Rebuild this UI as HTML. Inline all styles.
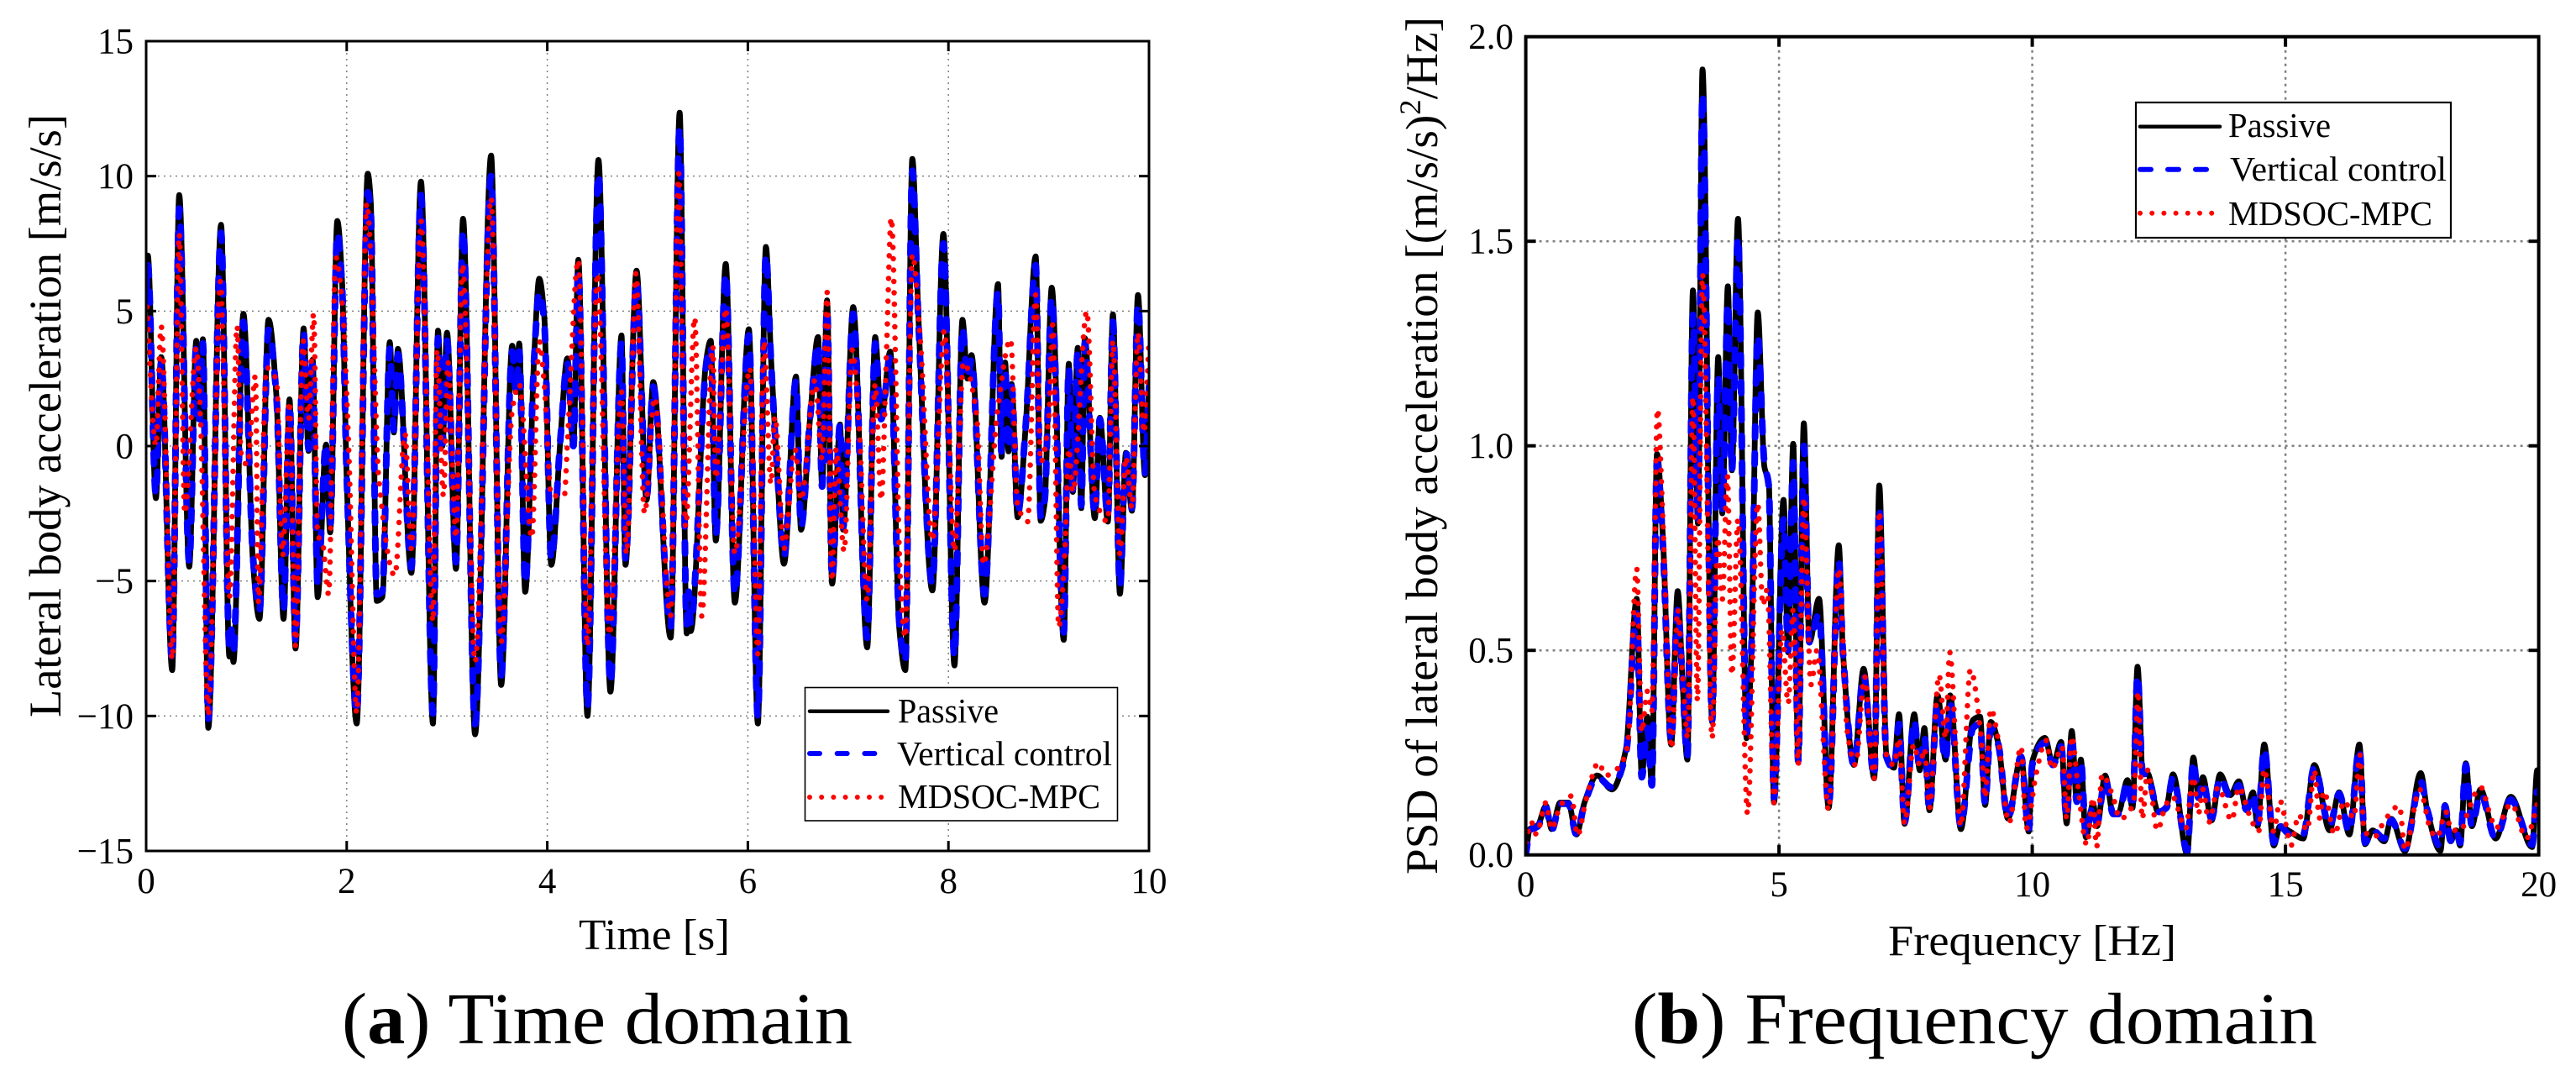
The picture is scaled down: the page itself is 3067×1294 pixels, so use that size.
<!DOCTYPE html>
<html lang="en">
<head>
<meta charset="utf-8">
<title>Lateral body acceleration: time and frequency domain</title>
<style>
html,body{margin:0;padding:0;background:#fff;}
svg{display:block;}
text{font-family:"Liberation Serif","Times New Roman",serif;fill:#000;}
</style>
</head>
<body>
<svg id="fig" xmlns="http://www.w3.org/2000/svg" width="3067" height="1294" viewBox="0 0 3067 1294">
  <defs>
    <clipPath id="clipA"><rect x="174" y="49" width="1194" height="964"/></clipPath>
    <clipPath id="clipB"><rect x="1816.6" y="43.7" width="1206" height="974"/></clipPath>
  </defs>
  <rect x="0" y="0" width="3067" height="1294" fill="#fff"/>

  <g id="chartA">
    <g id="gridA"></g>
    <g id="seriesA" clip-path="url(#clipA)"></g>
    <rect x="174" y="49" width="1194" height="964" fill="none" stroke="#000" stroke-width="3"/>
    <g id="ticksA"></g>
    <text transform="translate(72,854) rotate(-90)" font-size="54" textLength="718" lengthAdjust="spacingAndGlyphs">Lateral body acceleration [m/s/s]</text>
    <text x="689" y="1130" font-size="52" textLength="180" lengthAdjust="spacingAndGlyphs">Time [s]</text>
    <g>
      <rect x="958.5" y="818.5" width="372" height="158.5" fill="#fff" stroke="#000" stroke-width="1.6"/>
      <line x1="964" y1="846.7" x2="1057" y2="846.7" stroke="#000" stroke-width="4.5" stroke-linecap="round"/>
      <line x1="964" y1="897" x2="1044" y2="897" stroke="#0000ff" stroke-width="6" stroke-linecap="round" stroke-dasharray="12 20.7"/>
      <line x1="964" y1="949" x2="1051" y2="949" stroke="#ff0000" stroke-width="6" stroke-linecap="round" stroke-dasharray="0 14.2"/>
      <text x="1069" y="860" font-size="41" textLength="120" lengthAdjust="spacingAndGlyphs">Passive</text>
      <text x="1068" y="911" font-size="41" textLength="256" lengthAdjust="spacingAndGlyphs">Vertical control</text>
      <text x="1069" y="962" font-size="41" textLength="241" lengthAdjust="spacingAndGlyphs">MDSOC-MPC</text>
    </g>
  </g>

  <g id="chartB">
    <g id="gridB"></g>
    <g id="seriesB" clip-path="url(#clipB)"></g>
    <rect x="1816.6" y="43.7" width="1206" height="974" fill="none" stroke="#000" stroke-width="4"/>
    <g id="ticksB"></g>
    <text transform="translate(1711,1041) rotate(-90)" font-size="54" textLength="1021" lengthAdjust="spacingAndGlyphs">PSD of lateral body acceleration [(m/s/s)<tspan font-size="36" dy="-20">2</tspan><tspan dy="20">/Hz]</tspan></text>
    <text x="2248" y="1137" font-size="52" textLength="343" lengthAdjust="spacingAndGlyphs">Frequency [Hz]</text>
    <g>
      <rect x="2543" y="122" width="375" height="161" fill="#fff" stroke="#000" stroke-width="2.2"/>
      <line x1="2548" y1="150.7" x2="2643" y2="150.7" stroke="#000" stroke-width="4.5" stroke-linecap="round"/>
      <line x1="2548" y1="201.7" x2="2629" y2="201.7" stroke="#0000ff" stroke-width="6" stroke-linecap="round" stroke-dasharray="13 20"/>
      <line x1="2548" y1="253.7" x2="2635" y2="253.7" stroke="#ff0000" stroke-width="6" stroke-linecap="round" stroke-dasharray="0 14.2"/>
      <text x="2653" y="163" font-size="41" textLength="122" lengthAdjust="spacingAndGlyphs">Passive</text>
      <text x="2655" y="215" font-size="41" textLength="258" lengthAdjust="spacingAndGlyphs">Vertical control</text>
      <text x="2653" y="268" font-size="41" textLength="243" lengthAdjust="spacingAndGlyphs">MDSOC-MPC</text>
    </g>
  </g>

  <text x="407" y="1242" font-size="87" textLength="608" lengthAdjust="spacingAndGlyphs">(<tspan font-weight="bold">a</tspan>) Time domain</text>
  <text x="1943" y="1242" font-size="87" textLength="816" lengthAdjust="spacingAndGlyphs">(<tspan font-weight="bold">b</tspan>) Frequency domain</text>
</svg>

<script>
// ---- Chart (a): time domain ----
const timeTicksX = [0, 2, 4, 6, 8, 10];
const timeTicksY = [-15, -10, -5, 0, 5, 10, 15];
const timeTickLabelsY = ['\u221215', '\u221210', '\u22125', '0', '5', '10', '15'];

const timeSeconds = [
  0,.017,.097,.15,.26,.33,.43,.50,.53,.565,
  .62,.747,.83,.85,.87,.97,1.065,1.13,1.22,1.30,
  1.37,1.43,1.49,1.57,1.62,1.66,1.71,1.795,1.835,1.906,1.955,2.0,
  2.10,2.21,2.24,2.30,2.355,2.43,2.47,2.51,2.645,2.74,
  2.86,2.91,2.955,3.0,3.09,3.16,3.28,3.44,3.54,3.65,
  3.69,3.72,3.78,3.87,3.92,3.97,4.04,4.13,4.2,4.26,4.31,
  4.40,4.51,4.63,4.74,4.78,4.89,4.99,5.056,5.23,5.32,
  5.39,5.41,5.43,5.585,5.63,5.68,5.78,5.87,6.01,6.10,
  6.18,6.23,6.29,6.36,6.48,6.53,6.62,6.70,6.74,6.79,6.84,6.92,
  6.95,7.05,7.19,7.27,7.33,7.42,7.51,7.57,7.64,7.70,
  7.84,7.95,8.06,8.14,8.19,8.23,8.36,8.495,8.53,8.565,8.60,8.63,
  8.69,8.77,8.87,8.92,8.96,9.03,9.15,9.20,9.24,9.29,
  9.325,9.36,9.46,9.51,9.59,9.64,9.71,9.77,9.83,9.89,
  9.96,10
];
const passiveTimeValues = [
  6.0,7.06,-1.93,3.3,-8.3,9.3,-4.47,3.9,1.0,3.96,
  -10.44,8.2,-7.8,-7.0,-8.0,4.9,-4.3,-6.4,4.68,1.8,
  -6.4,1.73,-7.5,4.36,-.18,3.2,-5.6,.06,-3.2,8.34,6.0,-1.2,
  -10.28,10.09,9,-5.74,-5.6,3.85,.5,3.6,-4.7,9.8,
  -10.28,4.28,0,4.2,-4.55,8.42,-10.68,10.76,-8.85,3.72,
  2,3.8,-5.4,3.4,6.2,4.8,-4.4,.2,3.25,0,6.9,
  -10,10.6,-9.1,4.1,-4.4,6.5,-2,2.37,-7.1,12.35,
  -6.94,-5.5,-6.86,3.17,3.9,-3.5,6.75,-5.8,4.33,-10.28,
  7.38,3.3,-.8,-4.36,2.58,-3.1,1,4.04,-1.5,5.4,-5.1,.8,
  -3.1,5.15,-7.46,4.04,1,3.5,-6.75,-8.3,10.64,4.84,
  -5.35,7.86,-8.13,4.68,2.5,3.37,-5.8,6.0,-.4,3.1,-.2,2.3,
  -2.64,.7,7.03,-2.77,-2.1,5.87,-7.18,3.05,-1.7,3.64,
  -2.3,4,-2.67,1.05,-2.8,4.88,-5.47,-.25,-2.4,5.6,
  -1.08,2.3
];
const verticalTimeValues = [
  5.7,6.7,-1.8,3.1,-7.9,8.8,-4.3,3.7,1.0,3.8,
  -10.1,7.9,-7.4,-6.8,-7.6,4.6,-4.1,-6.1,4.3,1.8,
  -6.1,1.6,-7.2,4.2,-.1,3.0,-5.1,.1,-3.0,7.9,5.8,-1.1,
  -9.9,9.4,8.6,-5.5,-5.4,3.6,.6,3.4,-4.5,9.3,
  -9.9,4.0,.1,3.9,-4.3,8.0,-10.3,10.0,-8.5,3.5,
  2,3.5,-5.1,3.3,5.7,4.6,-4.2,.2,3.1,0,6.5,
  -9.7,10.1,-8.8,3.8,-4.2,6.1,-1.9,2.2,-6.7,11.8,
  -6.6,-5.4,-6.6,3.0,3.7,-3.3,6.4,-5.5,4.1,-10.0,
  7.1,3.2,-.7,-4.1,2.4,-3,1,3.8,-1.5,5.1,-4.9,.8,
  -3,4.9,-7.1,3.8,1,3.3,-6.5,-8.0,10.2,4.7,
  -5.1,7.5,-7.8,4.4,2.5,3.2,-5.5,5.7,-.3,2.9,-.1,2.2,
  -2.5,.7,6.7,-2.6,-2.0,5.5,-6.9,2.9,-1.6,3.5,
  -2.2,3.8,-2.5,1.0,-2.6,4.6,-5.2,-.2,-2.3,5.3,
  -1.0,2.2
];
const mdsocTimeSeconds = [
  .008,.097,.15,.26,.33,.385,.50,.54,.62,.74,
  .83,.907,.946,1.01,1.09,1.12,1.2,1.3,1.36,1.43,
  1.49,1.565,1.62,1.67,1.71,1.76,1.82,1.89,1.955,2.02,
  2.1,2.2,2.24,2.32,2.48,2.58,2.645,2.74,2.86,2.9,
  2.965,3.01,3.09,3.155,3.28,3.44,3.54,3.65,3.72,3.845,
  3.92,3.97,4.04,4.17,4.2,4.31,4.40,4.5,4.62,4.74,
  4.79,4.885,4.97,5.07,5.23,5.31,5.38,5.47,5.54,5.65,
  5.68,5.78,5.87,6.02,6.1,6.16,6.23,6.27,6.36,6.47,
  6.53,6.67,6.74,6.79,6.84,6.88,6.96,7.04,7.11,7.19,
  7.27,7.33,7.38,7.43,7.52,7.57,7.64,7.72,7.84,7.96,
  8.06,8.15,8.28,8.35,8.49,8.62,8.69,8.79,8.87,8.92,
  9.0,9.04,9.10,9.16,9.2,9.24,9.38,9.46,9.59,9.64,
  9.71,9.77,9.83,9.89,9.95,10
];
const mdsocTimeValues = [
  5.15,0,4.44,-7.9,7.86,-2.5,3.64,1.2,-10,6.1,
  -5.6,4.44,-.25,-.7,2.6,-5.8,2.9,2.45,-4.07,1.65,
  -7.4,3.9,1,4.9,-3.3,-3.6,-5.5,7,5.3,-.1,
  -9.9,9,7,-1.2,-4.8,.46,-3.8,8.34,-6.5,3.56,
  -1.85,3.1,-3.4,6.75,-8,9.2,-7.25,1.3,2.3,-3.4,
  3.9,2.3,-1.85,-1.85,.06,6.9,-7.4,6.4,-7,2,
  -4,6.4,-2.5,1.8,-6.3,10.1,-3,4.76,-6.3,3.7,
  -1.2,5.1,-4,2.9,-7.7,3.9,-1.4,1.1,-3.8,-.1,
  -2,2.45,-.5,5.7,-5,-.1,-3.9,3.56,.7,-5.7,
  2.3,-2,3.2,8.46,-4.9,-7.1,7.1,3.9,-3.5,4.28,
  -3.9,3.1,1.2,-4.4,1.3,3.96,-2.2,-2.8,5.6,-.6,
  1,4.5,-6.7,-4,-.1,-1.7,5,-1.85,-2.8,3.9,
  -4,-.4,-2.3,4.2,.5,3.9
];

// ---- Chart (b): frequency domain ----
const freqTicksX = [0, 5, 10, 15, 20];
const freqTicksY = [0, 0.5, 1.0, 1.5, 2.0];
const freqTickLabelsY = ['0.0', '0.5', '1.0', '1.5', '2.0'];

const freqHz = [
  0,.08,.24,.4,.51,.68,.84,1.0,1.16,1.41,
  1.70,1.98,2.19,2.29,2.4,2.49,2.59,2.71,2.87,3.0,
  3.09,3.19,3.3,3.4,3.49,3.68,3.8,3.88,3.99,4.07,
  4.19,4.36,4.45,4.58,4.71,4.8,4.9,5.09,5.18,5.28,
  5.38,5.49,5.6,5.79,5.98,6.18,6.26,6.48,6.67,6.88,
  6.98,7.12,7.27,7.37,7.48,7.67,7.78,7.87,7.97,8.13,
  8.29,8.38,8.59,8.83,8.97,9.07,9.18,9.33,9.52,9.78,
  9.93,10.0,10.25,10.41,10.57,10.68,10.78,10.88,10.96,11.06,
  11.2,11.28,11.44,11.6,11.71,11.88,11.98,12.08,12.18,12.28,
  12.49,12.65,12.78,13.06,13.18,13.28,13.37,13.54,13.71,13.91,
  14.08,14.23,14.36,14.45,14.58,14.77,14.89,15.09,15.35,15.57,
  15.87,16.06,16.26,16.46,16.57,16.72,16.95,17.09,17.36,17.67,
  17.8,18.06,18.15,18.26,18.37,18.45,18.56,18.68,18.85,19.15,
  19.45,19.87,19.97,20
];
const passivePsdValues = [
  0,.063,.073,.12,.063,.128,.128,.05,.128,.194,
  .16,.26,.626,.194,.338,.174,.98,.77,.27,.645,
  .44,.233,1.38,.81,1.92,.325,1.217,.835,1.39,.94,
  1.555,.285,.48,1.326,.95,.91,.128,.868,.495,1.005,
  .226,1.055,.52,.626,.115,.757,.5,.22,.455,.187,
  .903,.246,.213,.344,.076,.344,.207,.31,.109,.39,
  .233,.39,.063,.33,.338,.122,.325,.272,.089,.24,
  .057,.228,.286,.22,.276,.077,.303,.13,.233,.043,
  .125,.07,.194,.10,.105,.183,.115,.46,.207,.2,
  .105,.118,.197,.002,.238,.146,.19,.084,.197,.146,
  .18,.11,.153,.07,.27,.023,.07,.057,.04,.22,
  .06,.153,.05,.27,.026,.06,.033,.088,.009,.2,
  .108,.01,.122,.033,.06,.023,.224,.07,.16,.04,
  .142,.019,.207,.2
];
const verticalPsdValues = [
  0,.06,.07,.115,.06,.125,.125,.05,.125,.19,
  .165,.25,.59,.19,.31,.17,.96,.75,.28,.6,
  .44,.24,1.32,.82,1.86,.33,1.17,.84,1.35,.94,
  1.51,.30,.48,1.27,.96,.90,.14,.82,.5,.96,
  .23,1.0,.52,.59,.12,.72,.5,.22,.44,.19,
  .85,.24,.21,.32,.08,.33,.21,.29,.11,.37,
  .23,.37,.07,.31,.32,.125,.31,.27,.09,.24,
  .06,.22,.275,.22,.265,.09,.29,.13,.23,.05,
  .12,.08,.185,.10,.10,.18,.115,.44,.2,.195,
  .105,.115,.19,.01,.23,.14,.18,.09,.19,.14,
  .17,.11,.15,.075,.26,.03,.07,.05,.05,.215,
  .07,.15,.055,.26,.03,.06,.04,.085,.015,.18,
  .11,.02,.12,.035,.06,.03,.22,.07,.15,.04,
  .135,.025,.155,.15
];
const mdsocFreqHz = [
  0,.11,.21,.4,.51,.68,.9,1.02,1.19,1.44,
  1.57,1.83,2.01,2.19,2.29,2.4,2.49,2.6,2.71,2.88,
  3,3.09,3.2,3.3,3.39,3.49,3.68,3.79,3.88,3.98,
  4.07,4.19,4.38,4.58,4.68,4.77,4.9,5.06,5.18,5.28,
  5.38,5.49,5.63,5.75,5.98,6.18,6.35,6.51,6.69,6.88,
  6.98,7.12,7.27,7.37,7.48,7.66,7.78,7.87,7.97,8.16,
  8.29,8.37,8.59,8.78,8.98,9.07,9.18,9.33,9.54,9.78,
  9.88,10.08,10.27,10.39,10.59,10.68,10.78,10.9,11.08,11.2,
  11.27,11.38,11.6,11.73,12,12.09,12.17,12.28,12.47,12.63,
  12.77,13.03,13.18,13.28,13.37,13.49,13.67,13.94,14.08,14.28,
  14.47,14.58,14.77,14.89,15.06,15.11,15.26,15.43,15.57,15.67,
  15.76,15.97,16.16,16.35,16.47,16.55,16.75,16.94,17.16,17.25,
  17.36,17.65,17.87,17.99,18.17,18.27,18.48,18.56,18.85,19.05,
  19.15,19.46,19.76,19.9,20
];
const mdsocPsdValues = [
  .03,.08,.05,.128,.063,.12,.144,.047,.135,.226,
  .194,.213,.266,.70,.3,.40,.35,1.09,.81,.26,
  .6,.45,.285,1.12,.377,1.42,.285,.776,.625,.927,
  .44,.82,.1,.86,.61,.65,.128,.55,.37,.6,
  .22,.874,.416,.5,.109,.70,.3,.22,.436,.187,
  .84,.246,.22,.285,.076,.27,.22,.26,.115,.44,
  .285,.495,.07,.453,.3,.14,.357,.28,.078,.265,
  .064,.2,.28,.21,.265,.088,.29,.17,.024,.14,
  .019,.197,.14,.088,.125,.40,.088,.207,.06,.12,
  .142,.064,.19,.1,.16,.08,.166,.084,.166,.1,
  .057,.21,.057,.132,.043,.023,.098,.06,.207,.09,
  .156,.05,.132,.09,.245,.06,.043,.08,.115,.12,
  .012,.16,.06,.043,.105,.06,.06,.09,.166,.094,
  .065,.125,.04,.09,.14
];

const SVG_NS = 'http://www.w3.org/2000/svg';

// axis functions
function timeX(t) { return 174 + (t / 10) * 1194; }
function timeY(v) { return 531 - (v / 15) * 482; }
function freqX(f) { return 1816.6 + (f / 20) * 1206; }
function freqY(p) { return 1017.7 - (p / 2) * 974; }

// monotone cubic path through the data samples
function curvePath(xs, ys, fx, fy) {
  const px = xs.map(fx);
  const py = ys.map(fy);
  const n = px.length;
  const m = new Array(n).fill(0);
  const s = [];
  for (let i = 0; i < n - 1; i++) s.push((py[i + 1] - py[i]) / (px[i + 1] - px[i]));
  m[0] = s[0];
  m[n - 1] = s[n - 2];
  for (let i = 1; i < n - 1; i++) {
    m[i] = s[i - 1] * s[i] <= 0 ? 0 : 2 * s[i - 1] * s[i] / (s[i - 1] + s[i]);
  }
  let d = 'M' + px[0].toFixed(1) + ' ' + py[0].toFixed(1);
  for (let i = 0; i < n - 1; i++) {
    const h = (px[i + 1] - px[i]) / 3;
    d += 'C' + (px[i] + h).toFixed(1) + ' ' + (py[i] + m[i] * h).toFixed(1) + ' ' +
         (px[i + 1] - h).toFixed(1) + ' ' + (py[i + 1] - m[i + 1] * h).toFixed(1) + ' ' +
         px[i + 1].toFixed(1) + ' ' + py[i + 1].toFixed(1);
  }
  return d;
}

function styleLine(el, color, width, dash) {
  el.setAttribute('fill', 'none');
  el.setAttribute('stroke', color);
  el.setAttribute('stroke-width', width);
  el.setAttribute('stroke-linejoin', 'round');
  if (dash) {
    el.setAttribute('stroke-dasharray', dash);
    el.setAttribute('stroke-linecap', 'round');
  }
}

// ---- series, chart (a) ----
const seriesA = document.getElementById('seriesA');

const passiveTimeLine = document.createElementNS(SVG_NS, 'path');


passiveTimeLine.setAttribute('d', curvePath(timeSeconds, passiveTimeValues, timeX, timeY));
styleLine(passiveTimeLine, '#000', 6.8, null);
seriesA.appendChild(passiveTimeLine);

const verticalTimeLine = document.createElementNS(SVG_NS, 'path');


verticalTimeLine.setAttribute('d', curvePath(timeSeconds, verticalTimeValues, timeX, timeY));
styleLine(verticalTimeLine, '#0000ff', 8, '13 19');
seriesA.appendChild(verticalTimeLine);

const mdsocTimeLine = document.createElementNS(SVG_NS, 'path');


mdsocTimeLine.setAttribute('d', curvePath(mdsocTimeSeconds, mdsocTimeValues, timeX, timeY));
styleLine(mdsocTimeLine, '#ff0000', 6.5, '0 13.5');
seriesA.appendChild(mdsocTimeLine);

// ---- series, chart (b) ----
const seriesB = document.getElementById('seriesB');

const passivePsdLine = document.createElementNS(SVG_NS, 'path');


passivePsdLine.setAttribute('d', curvePath(freqHz, passivePsdValues, freqX, freqY));
styleLine(passivePsdLine, '#000', 6.8, null);
seriesB.appendChild(passivePsdLine);

const verticalPsdLine = document.createElementNS(SVG_NS, 'path');


verticalPsdLine.setAttribute('d', curvePath(freqHz, verticalPsdValues, freqX, freqY));
styleLine(verticalPsdLine, '#0000ff', 8, '13 19');
seriesB.appendChild(verticalPsdLine);

const mdsocPsdLine = document.createElementNS(SVG_NS, 'path');


mdsocPsdLine.setAttribute('d', curvePath(mdsocFreqHz, mdsocPsdValues, freqX, freqY));
styleLine(mdsocPsdLine, '#ff0000', 6.5, '0 13.5');
seriesB.appendChild(mdsocPsdLine);

// ---- grid + ticks + tick labels ----
function drawAxes(gridId, ticksId, xTicks, yTicks, yLabels, fx, fy, box, style) {
  const grid = document.getElementById(gridId);
  const ticks = document.getElementById(ticksId);
  xTicks.forEach(function (v) {
    const x = fx(v);
    if (v !== xTicks[0] && v !== xTicks[xTicks.length - 1]) {
      const g = document.createElementNS(SVG_NS, 'line');
      
      
      g.setAttribute('x1', x); g.setAttribute('x2', x);
      g.setAttribute('y1', box.top); g.setAttribute('y2', box.bottom);
      g.setAttribute('stroke', '#808080');
      g.setAttribute('stroke-width', style.gridWidth);
      g.setAttribute('stroke-dasharray', style.gridDash);
      grid.appendChild(g);
      [[box.bottom, box.bottom - 12], [box.top, box.top + 12]].forEach(function (p) {
        const t = document.createElementNS(SVG_NS, 'line');
        
        
        t.setAttribute('x1', x); t.setAttribute('x2', x);
        t.setAttribute('y1', p[0]); t.setAttribute('y2', p[1]);
        t.setAttribute('stroke', '#000');
        t.setAttribute('stroke-width', style.tickWidth);
        ticks.appendChild(t);
      });
    }
    const lab = document.createElementNS(SVG_NS, 'text');
    
    
    lab.setAttribute('x', x);
    lab.setAttribute('y', style.xLabelY);
    lab.setAttribute('font-size', style.tickFont);
    lab.setAttribute('text-anchor', 'middle');
    lab.textContent = String(v);
    ticks.appendChild(lab);
  });
  yTicks.forEach(function (v, i) {
    const y = fy(v);
    if (i !== 0 && i !== yTicks.length - 1) {
      const g = document.createElementNS(SVG_NS, 'line');
      
      
      g.setAttribute('x1', box.left); g.setAttribute('x2', box.right);
      g.setAttribute('y1', y); g.setAttribute('y2', y);
      g.setAttribute('stroke', '#808080');
      g.setAttribute('stroke-width', style.gridWidth);
      g.setAttribute('stroke-dasharray', style.gridDash);
      grid.appendChild(g);
      [[box.left, box.left + 12], [box.right, box.right - 12]].forEach(function (p) {
        const t = document.createElementNS(SVG_NS, 'line');
        
        
        t.setAttribute('x1', p[0]); t.setAttribute('x2', p[1]);
        t.setAttribute('y1', y); t.setAttribute('y2', y);
        t.setAttribute('stroke', '#000');
        t.setAttribute('stroke-width', style.tickWidth);
        ticks.appendChild(t);
      });
    }
    const lab = document.createElementNS(SVG_NS, 'text');
    
    
    lab.setAttribute('x', style.yLabelX);
    lab.setAttribute('y', y + 14.5);
    lab.setAttribute('font-size', style.tickFont);
    lab.setAttribute('text-anchor', 'end');
    lab.textContent = yLabels[i];
    ticks.appendChild(lab);
  });
}

drawAxes('gridA', 'ticksA', timeTicksX, timeTicksY, timeTickLabelsY, timeX, timeY,
  { left: 174, right: 1368, top: 49, bottom: 1013 },
  { gridWidth: 1.5, gridDash: '2 5', tickWidth: 3, tickFont: 43, xLabelY: 1063, yLabelX: 159 });

drawAxes('gridB', 'ticksB', freqTicksX, freqTicksY, freqTickLabelsY, freqX, freqY,
  { left: 1816.6, right: 3022.6, top: 43.7, bottom: 1017.7 },
  { gridWidth: 2.5, gridDash: '3 5', tickWidth: 4, tickFont: 43, xLabelY: 1067, yLabelX: 1802 });
</script>
</body>
</html>
